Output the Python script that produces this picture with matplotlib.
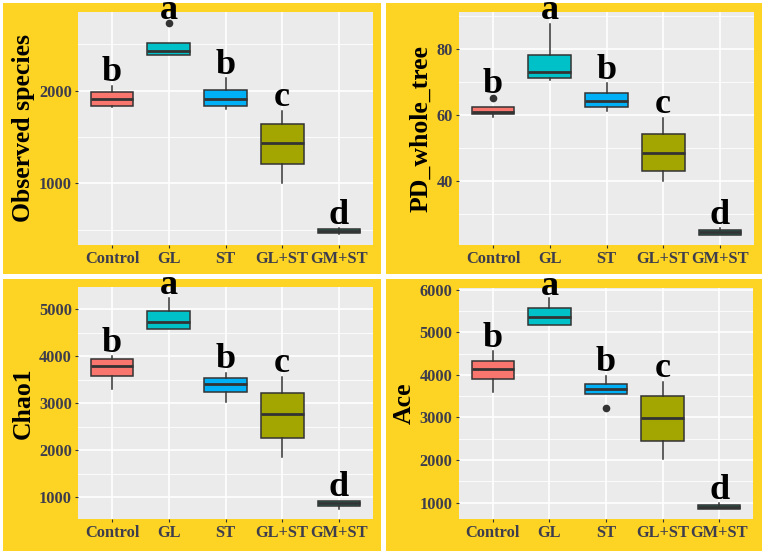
import matplotlib
matplotlib.use('Agg')
import matplotlib.pyplot as plt
from matplotlib.patches import Rectangle

# Gruplar ve renkler
groups = ['Control', 'GL', 'ST', 'GL+ST', 'GM+ST']
box_colors = ['#F8766D', '#00C1C8', '#00B0F6', '#A3A500', '#1E8C6E']
letters = ['b', 'a', 'b', 'c', 'd']

# Observed species
obs_q1 = [1838, 2385, 1835, 1209, 462]
obs_med = [1910, 2432, 1910, 1439, 482]
obs_q3 = [1989, 2518, 2007, 1640, 504]
obs_lo = [1827, 2385, 1802, 1000, 452]
obs_hi = [2050, 2518, 2133, 1781, 514]
obs_out = [[], [2734], [], [], []]

# PD_whole_tree
pd_q1 = [60.4, 71.2, 62.3, 43.0, 23.6]
pd_med = [61.0, 73.1, 64.3, 48.4, 24.3]
pd_q3 = [62.3, 78.2, 66.6, 54.1, 25.2]
pd_lo = [59.4, 70.6, 61.2, 40.0, 23.5]
pd_hi = [62.3, 87.8, 69.6, 59.1, 25.6]
pd_out = [[65.2], [], [], [], []]

# Chao1
chao_q1 = [3584, 4575, 3244, 2267, 816]
chao_med = [3796, 4731, 3414, 2777, 880]
chao_q3 = [3938, 4958, 3549, 3223, 929]
chao_lo = [3315, 4575, 3018, 1864, 752]
chao_hi = [4002, 5248, 3648, 3563, 929]
chao_out = [[], [], [], [], []]

# Ace
ace_q1 = [3910, 5173, 3558, 2451, 852]
ace_med = [4136, 5360, 3660, 2989, 899]
ace_q3 = [4323, 5571, 3777, 3496, 938]
ace_lo = [3597, 5173, 3558, 2037, 850]
ace_hi = [4557, 5805, 3980, 3832, 984]
ace_out = [[], [], [3231], [], []]

W, H = 765, 555
fig = plt.figure(figsize=(W / 100, H / 100), dpi=100)
fig.patch.set_facecolor('white')

# Sarı panel arka planları (piksel)
for (x1, y1, x2, y2) in [(3, 3, 381, 274), (386, 3, 762, 274),
                         (3, 279, 381, 551), (386, 279, 762, 551)]:
    fig.add_artist(Rectangle((x1 / W, 1 - y2 / H), (x2 - x1) / W, (y2 - y1) / H,
                             transform=fig.transFigure, facecolor='#FDD324',
                             edgecolor='none', zorder=0))

serif = 'Liberation Serif'


def draw(rect, q1, med, q3, lo, hi, out, ylabel, ylim, major, minor):
    x1, y1, x2, y2 = rect
    ax = fig.add_axes([x1 / W, 1 - y2 / H, (x2 - x1) / W, (y2 - y1) / H])
    ax.set_facecolor('#EBEBEB')
    for s in ax.spines.values():
        s.set_visible(False)
    stats = []
    for i in range(5):
        stats.append(dict(med=med[i], q1=q1[i], q3=q3[i], whislo=lo[i],
                          whishi=hi[i], fliers=out[i], label=groups[i]))
    pos = list(range(1, 6))
    bp = ax.bxp(stats, positions=pos, widths=0.75, patch_artist=True,
                showcaps=False,
                boxprops=dict(edgecolor='#333333', linewidth=1.1),
                medianprops=dict(color='#333333', linewidth=2.0),
                whiskerprops=dict(color='#333333', linewidth=1.1),
                flierprops=dict(marker='o', markerfacecolor='#333333',
                                markeredgecolor='none', markersize=5.5))
    for patch, c in zip(bp['boxes'], box_colors):
        patch.set_facecolor(c)
    ax.set_xlim(0.4, 5.6)
    ax.set_ylim(*ylim)
    ax.set_yticks(major)
    ax.set_yticks(minor, minor=True)
    ax.set_axisbelow(True)
    ax.grid(True, which='major', color='white', linewidth=1.2)
    ax.grid(True, which='minor', axis='y', color='white', linewidth=0.6)
    ax.tick_params(which='major', direction='out', length=2.5, width=0.8,
                   color='#333333', pad=2)
    ax.tick_params(which='minor', length=0)
    ax.set_xticks(pos)
    ax.set_xticklabels(groups)
    for lab in ax.get_xticklabels() + ax.get_yticklabels():
        lab.set_fontfamily(serif)
        lab.set_fontweight('bold')
        lab.set_fontsize(11.8)
        lab.set_color('#3D3D4D')
    ax.set_ylabel(ylabel, fontfamily=serif, fontweight='bold', fontsize=18.5,
                  color='black', labelpad=3)
    rng = ylim[1] - ylim[0]
    for i in range(5):
        top = max([hi[i]] + list(out[i]))
        y = min(top + 0.02 * rng, ylim[1] - 0.032 * rng)
        ax.text(pos[i], y, letters[i], ha='center', va='baseline',
                fontfamily=serif, fontweight='bold', fontsize=26, color='black',
                clip_on=False)
    return ax


draw((78, 12, 373, 245), obs_q1, obs_med, obs_q3, obs_lo, obs_hi, obs_out,
     'Observed species', (334, 2849), [1000, 2000], [500, 1500, 2500])
draw((459, 12, 754, 245), pd_q1, pd_med, pd_q3, pd_lo, pd_hi, pd_out,
     'PD_whole_tree', (20.5, 91.3), [40, 60, 80], [30, 50, 70, 90])
draw((78, 287, 373, 519), chao_q1, chao_med, chao_q3, chao_lo, chao_hi, chao_out,
     'Chao1', (540, 5474), [1000, 2000, 3000, 4000, 5000],
     [1500, 2500, 3500, 4500])
draw((459, 288, 753, 519), ace_q1, ace_med, ace_q3, ace_lo, ace_hi, ace_out,
     'Ace', (618, 6039), [1000, 2000, 3000, 4000, 5000, 6000],
     [1500, 2500, 3500, 4500, 5500])

fig.savefig('out.png', dpi=100, facecolor='white')
